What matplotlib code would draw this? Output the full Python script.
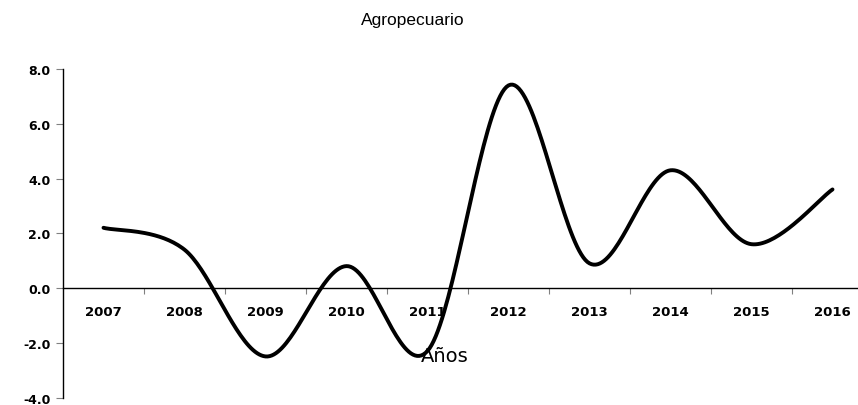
import numpy as np
import matplotlib
matplotlib.use("Agg")
from matplotlib import pyplot as plt

years = ["2007", "2008", "2009", "2010", "2011", "2012", "2013", "2014", "2015", "2016"]
valores = [2.2, 1.4, -2.5, 0.8, -2.3, 7.4, 0.9, 4.3, 1.6, 3.6]
yticks = [-4.0, -2.0, 0.0, 2.0, 4.0, 6.0, 8.0]


def suavizar(x, y, n=40):
	# curva suavizada tipo Excel (bezier con tangentes Catmull-Rom)
	x = np.asarray(x, float)
	y = np.asarray(y, float)
	px = np.concatenate([[x[0]], x, [x[-1]]])
	py = np.concatenate([[y[0]], y, [y[-1]]])
	xs, ys = [], []
	t = np.linspace(0, 1, n)
	for i in range(1, len(px) - 2):
		p0 = np.array([px[i], py[i]])
		p3 = np.array([px[i + 1], py[i + 1]])
		p1 = p0 + (np.array([px[i + 1], py[i + 1]]) - np.array([px[i - 1], py[i - 1]])) / 6
		p2 = p3 - (np.array([px[i + 2], py[i + 2]]) - np.array([px[i], py[i]])) / 6
		b = ((1 - t) ** 3)[:, None] * p0 + (3 * (1 - t) ** 2 * t)[:, None] * p1 \
			+ (3 * (1 - t) * t ** 2)[:, None] * p2 + (t ** 3)[:, None] * p3
		xs.extend(b[:, 0])
		ys.extend(b[:, 1])
	return xs, ys


fig = plt.figure(figsize=(8.58, 4.06), dpi=100)
ax = fig.add_axes([63 / 858, 1 - 398.5 / 406, 810 / 858, 328.5 / 406])

ax.spines["top"].set_visible(False)
ax.spines["right"].set_visible(False)
ax.spines["bottom"].set_position(("data", 0))
ax.spines["left"].set_linewidth(1)
ax.spines["bottom"].set_linewidth(1)

pos = np.arange(len(years))
sx, sy = suavizar(pos, valores)
ax.plot(sx, sy, color="black", lw=2.8, solid_capstyle="round", clip_on=False)

ax.set_xlim(-0.5, len(years) - 0.5)
ax.set_ylim(-4, 8)
ax.set_yticks(yticks)
ax.set_yticklabels([f"{v:.1f}" for v in yticks], fontsize=9, fontweight="bold")
ax.set_xticks(pos)
ax.set_xticklabels(years, fontsize=9.5, fontweight="bold")
ax.set_xticks(np.arange(0.5, len(years) - 0.5, 1), minor=True)

ax.tick_params(axis="y", direction="out", length=5, width=0.8, pad=4, color="#808080")
ax.tick_params(axis="x", which="major", length=0, pad=12)
ax.tick_params(axis="x", which="minor", direction="out", length=4, width=0.8, color="#808080")

fig.text(413 / 858, 1 - 20 / 406, "Agropecuario", ha="center", va="center",
		fontsize=12.5, family="Liberation Sans")
fig.text(445 / 858, 1 - 357 / 406, "Años", ha="center", va="center", fontsize=14)

fig.savefig("out.png", dpi=100)
